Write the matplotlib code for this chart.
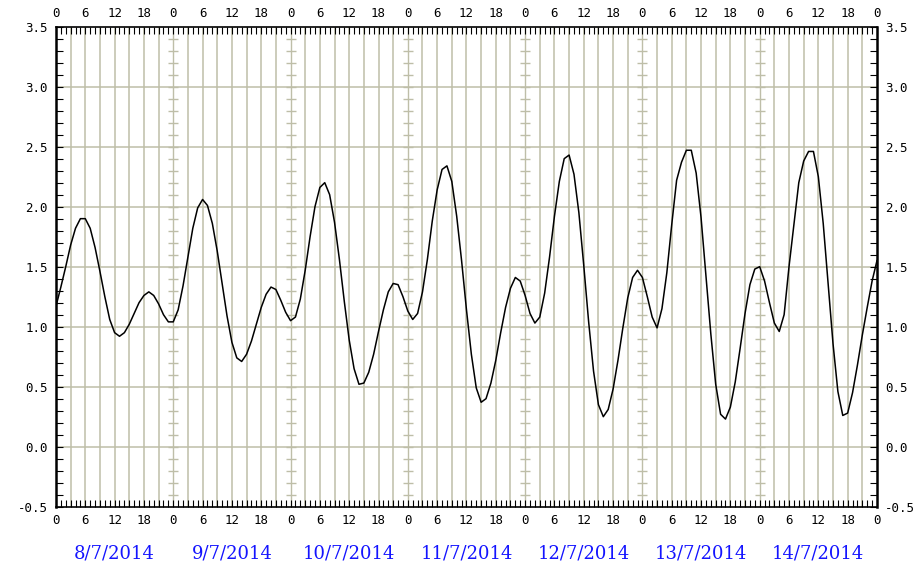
import numpy as np
import matplotlib
matplotlib.use("Agg")
import matplotlib.pyplot as plt
from matplotlib.ticker import MultipleLocator, FixedLocator, FixedFormatter

# hourly water level (m), 8/7/2014 00h .. 15/7/2014 00h
hours = list(range(0, 169))
level = [
    1.17, 1.33, 1.50, 1.68, 1.82, 1.90, 1.90, 1.82, 1.66, 1.46, 1.25, 1.06,
    0.95, 0.92, 0.95, 1.02, 1.11, 1.20, 1.26, 1.29, 1.26, 1.19, 1.10, 1.04,
    1.04, 1.14, 1.34, 1.58, 1.82, 1.99, 2.06, 2.01, 1.86, 1.63, 1.36, 1.09,
    0.87, 0.74, 0.71, 0.77, 0.88, 1.02, 1.16, 1.27, 1.33, 1.31, 1.22, 1.12,
    1.05, 1.08, 1.23, 1.47, 1.75, 2.00, 2.16, 2.20, 2.10, 1.87, 1.56, 1.21,
    0.89, 0.65, 0.52, 0.53, 0.62, 0.77, 0.96, 1.14, 1.29, 1.36, 1.35, 1.25,
    1.13, 1.06, 1.11, 1.29, 1.56, 1.88, 2.14, 2.31, 2.34, 2.21, 1.92, 1.55,
    1.14, 0.77, 0.49, 0.37, 0.40, 0.53, 0.72, 0.95, 1.16, 1.32, 1.41, 1.38,
    1.26, 1.11, 1.03, 1.08, 1.28, 1.58, 1.92, 2.21, 2.40, 2.43, 2.27, 1.95,
    1.51, 1.04, 0.63, 0.35, 0.25, 0.31, 0.48, 0.72, 0.99, 1.24, 1.41, 1.47,
    1.41, 1.25, 1.08, 0.99, 1.15, 1.45, 1.85, 2.22, 2.37, 2.47, 2.47, 2.28,
    1.91, 1.43, 0.94, 0.52, 0.27, 0.23, 0.33, 0.54, 0.82, 1.11, 1.35, 1.48,
    1.50, 1.38, 1.20, 1.03, 0.96, 1.10, 1.50, 1.85, 2.20, 2.38, 2.46, 2.46,
    2.25, 1.86, 1.36, 0.86, 0.46, 0.26, 0.28, 0.45, 0.68, 0.93, 1.16, 1.38,
    1.55,
]
dates = ["8/7/2014", "9/7/2014", "10/7/2014", "11/7/2014",
         "12/7/2014", "13/7/2014", "14/7/2014"]
hour_labels = ["0", "6", "12", "18"]

gridc = "#bebea8"
mono = "DejaVu Sans Mono"
ndays = len(dates)

fig = plt.figure(figsize=(9.16, 5.72), dpi=100)
ax = fig.add_axes([0.0611, 0.1142, 0.8963, 0.8392])

ax.set_xlim(0, 24 * ndays)
ax.set_ylim(-0.5, 3.5)

# grid: every 3 hours / every 0.5 m
for x in range(3, 24 * ndays, 3):
    ax.axvline(x, color=gridc, lw=1.1 if x % 24 else 1.0, zorder=1)
for y in np.arange(0, 3.5, 0.5):
    ax.axhline(y, color=gridc, lw=1.1, zorder=1)

# small scale marks on the day boundaries
ys = np.arange(-0.4, 3.45, 0.1)
for d in range(24, 24 * ndays, 24):
    ax.plot([d] * len(ys), ys, ls="", marker="_", ms=7, mew=1.0,
            color=gridc, zorder=1)

ax.plot(hours, level, color="black", lw=1.1, zorder=3)

# x ticks top and bottom
xt = list(range(0, 24 * ndays + 1, 6))
ax.xaxis.set_major_locator(FixedLocator(xt))
ax.xaxis.set_major_formatter(FixedFormatter([hour_labels[i % 4] for i in range(len(xt))]))
ax.xaxis.set_minor_locator(MultipleLocator(1))
ax.tick_params(axis="x", which="both", direction="in", top=True, bottom=True,
               labeltop=True, labelbottom=True, length=5, width=0.8, pad=5,
               labelsize=9)
ax.yaxis.set_major_locator(MultipleLocator(0.5))
ax.yaxis.set_minor_locator(MultipleLocator(0.1))
ax.yaxis.set_major_formatter(plt.FuncFormatter(lambda v, p: f"{v:.1f}"))
ax.tick_params(axis="y", which="both", direction="in", left=True, right=True,
               labelleft=True, labelright=True, length=5, width=0.8, pad=6,
               labelsize=9)
for lab in ax.get_xticklabels() + ax.get_yticklabels():
    lab.set_family(mono)
for sp in ax.spines.values():
    sp.set_linewidth(1.2)
ax.spines["left"].set_linewidth(1.8)
ax.spines["right"].set_linewidth(1.8)

for i, d in enumerate(dates):
    ax.text(12 + 24 * i, -0.097, d, transform=ax.get_xaxis_transform(),
            ha="center", va="center", color="#1414ff",
            fontsize=13, family="DejaVu Serif")

fig.savefig("out.png", dpi=100, facecolor="white")
